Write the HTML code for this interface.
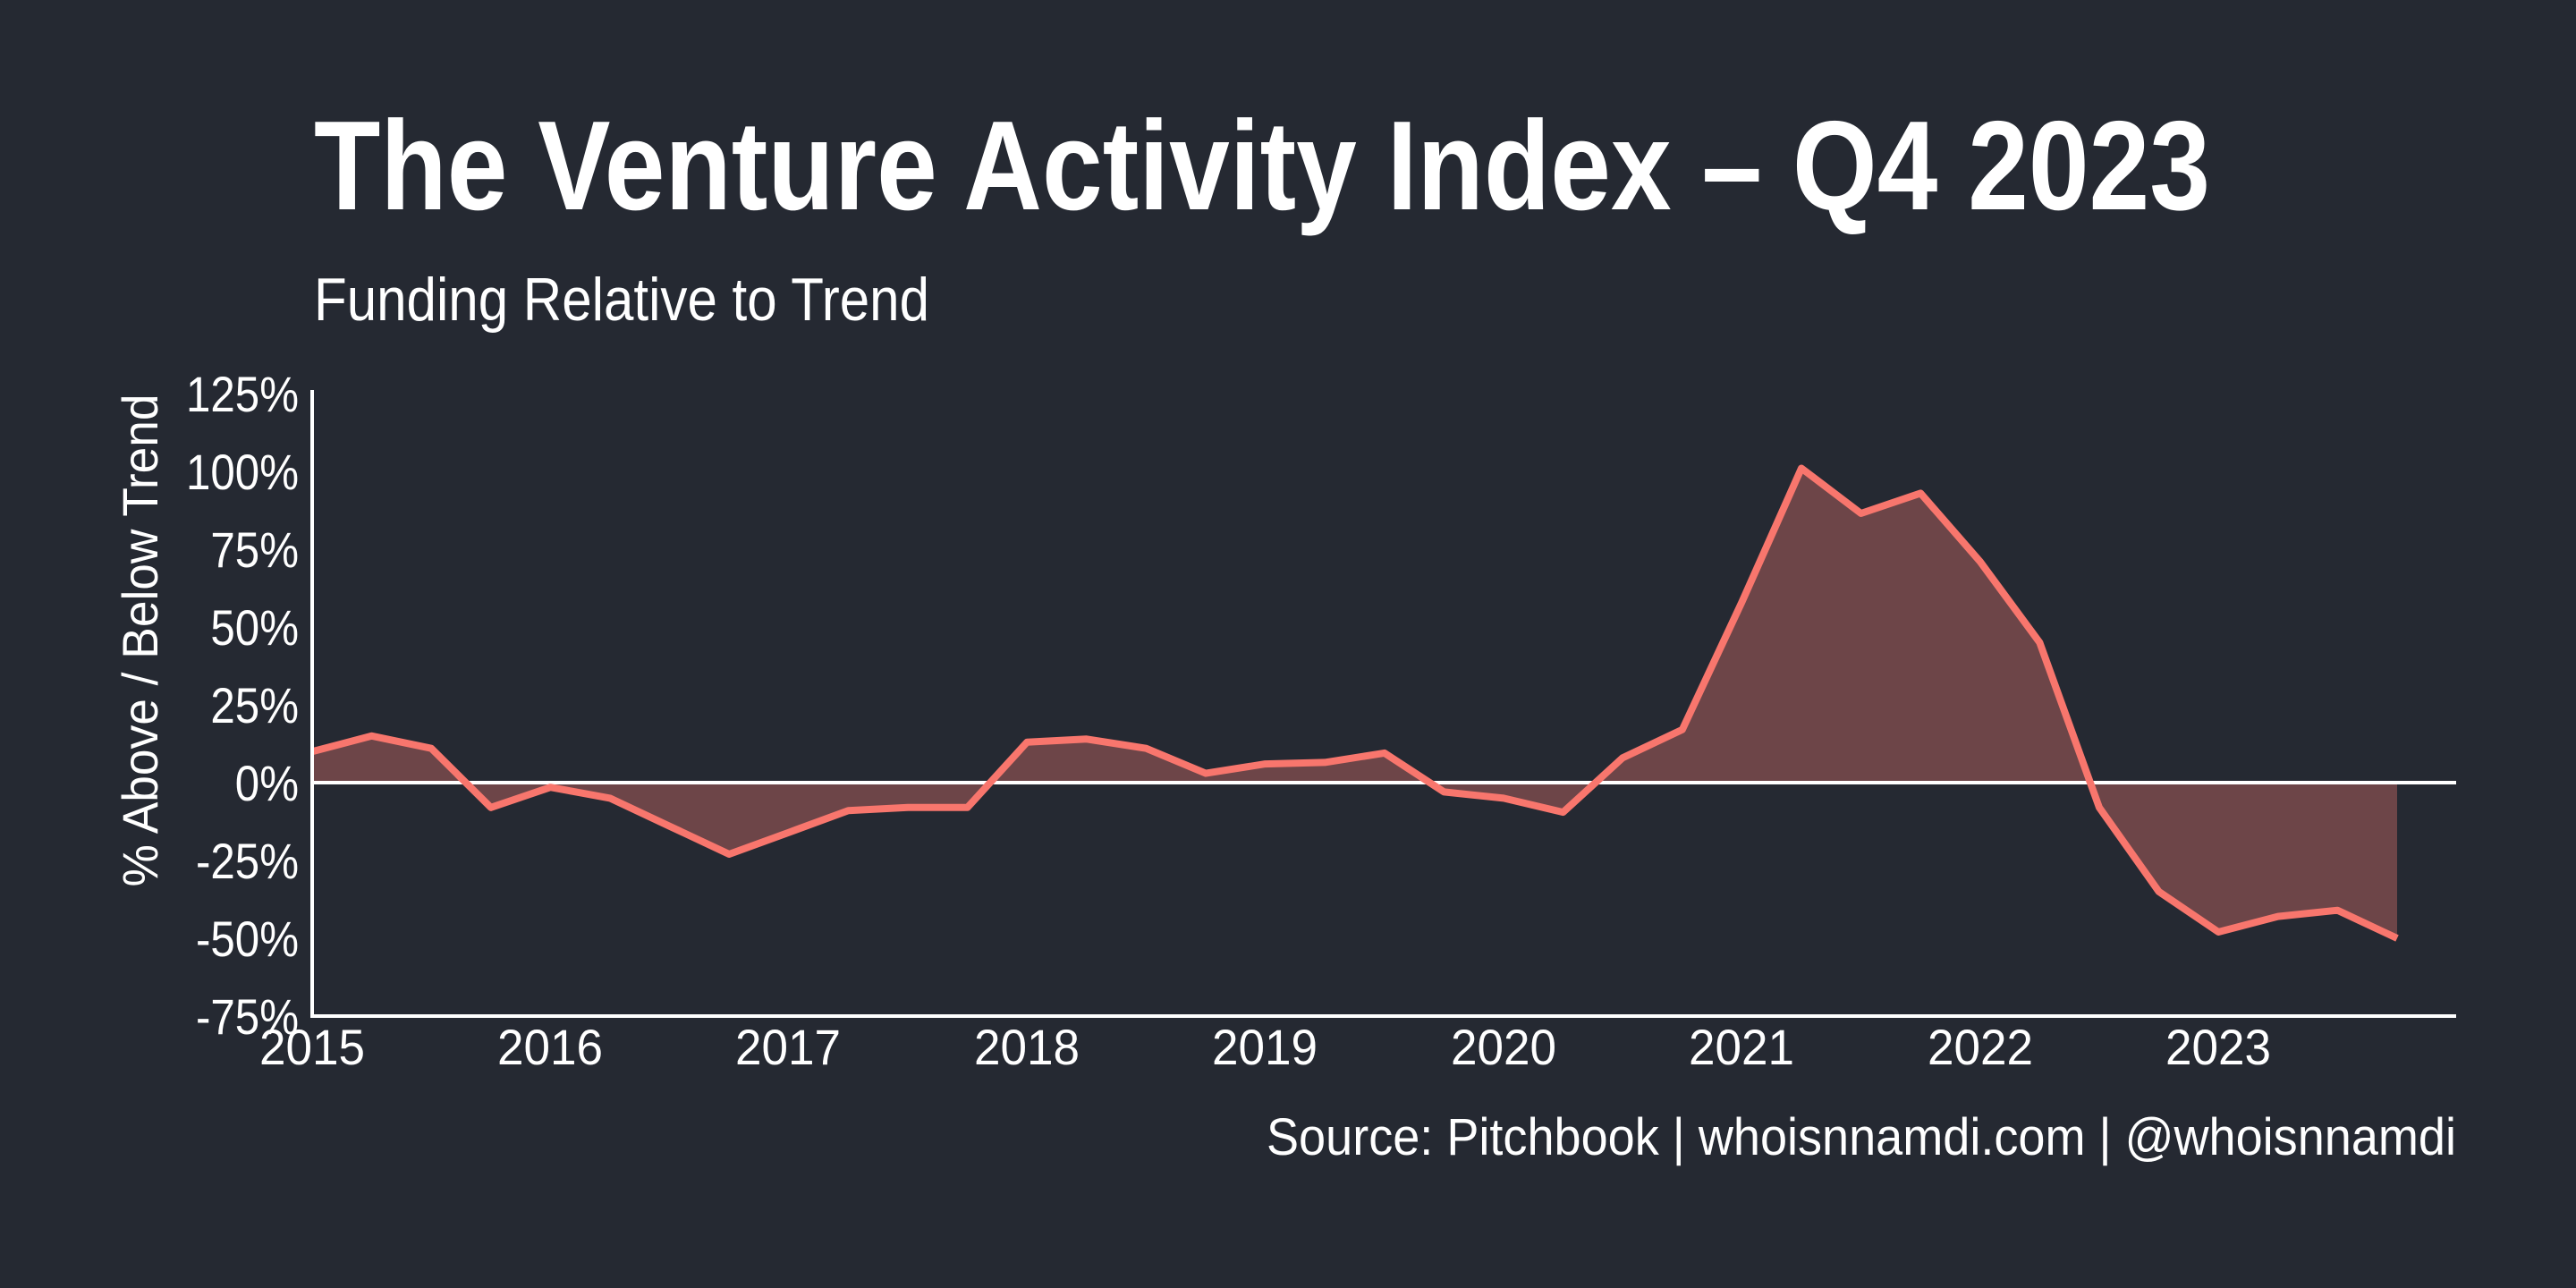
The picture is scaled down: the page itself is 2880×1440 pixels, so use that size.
<!DOCTYPE html>
<html><head><meta charset="utf-8"><style>
html,body{margin:0;padding:0;background:#252932;}
svg{display:block;}
text{font-family:"Liberation Sans Narrow","Liberation Sans",sans-serif;fill:#fff;}
</style></head><body>
<svg width="2880" height="1440" viewBox="0 0 2880 1440" xmlns="http://www.w3.org/2000/svg">
<rect width="2880" height="1440" fill="#252932"/>
<text x="351" y="234" font-size="142" font-weight="bold" textLength="2120" lengthAdjust="spacingAndGlyphs">The Venture Activity Index – Q4 2023</text>
<text x="351" y="358" font-size="68" textLength="688" lengthAdjust="spacingAndGlyphs">Funding Relative to Trend</text>
<polygon fill="#6d4548" points="349,875 349,840.2 415.6,822.8 482.2,836.7 548.8,902.8 615.4,880.2 682,892.4 748.6,923.7 815.2,955 881.8,930.7 948.4,906.3 1015,902.8 1081.6,902.8 1148.2,829.8 1214.8,826.3 1281.4,836.7 1348,864.6 1414.6,854.1 1481.2,852.4 1547.8,841.9 1614.4,885.4 1681,892.4 1747.6,908.1 1814.2,847.2 1880.8,815.8 1947.4,673.2 2014,523.5 2080.6,574 2147.2,551.4 2213.8,627.9 2280.4,718.4 2347,902.8 2413.6,996.8 2480.2,1042 2546.8,1024.6 2613.4,1017.7 2680,1049 2680,875"/>
<line x1="349" y1="875" x2="2746" y2="875" stroke="#fff" stroke-width="4"/>
<polyline fill="none" stroke="#f8766d" stroke-width="8" stroke-linejoin="round" points="349,840.2 415.6,822.8 482.2,836.7 548.8,902.8 615.4,880.2 682,892.4 748.6,923.7 815.2,955 881.8,930.7 948.4,906.3 1015,902.8 1081.6,902.8 1148.2,829.8 1214.8,826.3 1281.4,836.7 1348,864.6 1414.6,854.1 1481.2,852.4 1547.8,841.9 1614.4,885.4 1681,892.4 1747.6,908.1 1814.2,847.2 1880.8,815.8 1947.4,673.2 2014,523.5 2080.6,574 2147.2,551.4 2213.8,627.9 2280.4,718.4 2347,902.8 2413.6,996.8 2480.2,1042 2546.8,1024.6 2613.4,1017.7 2680,1049"/>
<line x1="349" y1="436" x2="349" y2="1138" stroke="#fff" stroke-width="4"/>
<line x1="347" y1="1136" x2="2746" y2="1136" stroke="#fff" stroke-width="4"/>
<g font-size="56" text-anchor="end" transform="translate(334,0) scale(0.88,1)">
<text x="0" y="460">125%</text>
<text x="0" y="547">100%</text>
<text x="0" y="634">75%</text>
<text x="0" y="721">50%</text>
<text x="0" y="808">25%</text>
<text x="0" y="895">0%</text>
<text x="0" y="982">-25%</text>
<text x="0" y="1069">-50%</text>
<text x="0" y="1156">-75%</text>
</g>
<g font-size="56" text-anchor="middle">
<text x="349" y="1190" textLength="118" lengthAdjust="spacingAndGlyphs">2015</text>
<text x="615" y="1190" textLength="118" lengthAdjust="spacingAndGlyphs">2016</text>
<text x="881" y="1190" textLength="118" lengthAdjust="spacingAndGlyphs">2017</text>
<text x="1148" y="1190" textLength="118" lengthAdjust="spacingAndGlyphs">2018</text>
<text x="1414" y="1190" textLength="118" lengthAdjust="spacingAndGlyphs">2019</text>
<text x="1681" y="1190" textLength="118" lengthAdjust="spacingAndGlyphs">2020</text>
<text x="1947" y="1190" textLength="118" lengthAdjust="spacingAndGlyphs">2021</text>
<text x="2214" y="1190" textLength="118" lengthAdjust="spacingAndGlyphs">2022</text>
<text x="2480" y="1190" textLength="118" lengthAdjust="spacingAndGlyphs">2023</text>
</g>
<text transform="translate(176,716) rotate(-90)" font-size="56" text-anchor="middle" textLength="551" lengthAdjust="spacingAndGlyphs">% Above / Below Trend</text>
<text x="2746" y="1291" font-size="58" text-anchor="end" textLength="1330" lengthAdjust="spacingAndGlyphs">Source: Pitchbook | whoisnnamdi.com | @whoisnnamdi</text>
</svg>
</body></html>
